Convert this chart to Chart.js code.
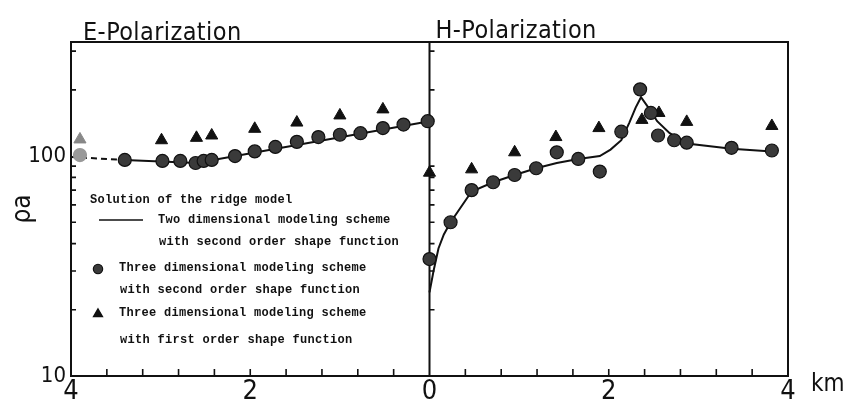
<!DOCTYPE html>
<html>
<head>
<meta charset="utf-8">
<script src="https://cdn.jsdelivr.net/npm/chart.js@4.4.1/dist/chart.umd.min.js"></script>
<style>
  html, body { margin: 0; padding: 0; background: #fff; }
</style>
</head>
<body>
<canvas id="chart" width="848" height="410"></canvas>
<script>
// distances in km from the ridge axis; E-polarization is drawn on the left half
const eCircleKm = [3.9, 3.40, 2.98, 2.78, 2.61, 2.52, 2.43, 2.17, 1.95, 1.72, 1.48, 1.24, 1.00, 0.77, 0.52, 0.29, 0.02];
const eCircleRho = [101, 96, 95, 95, 93, 95, 96, 100, 105, 110, 116, 122, 125, 127, 134, 139, 144];
const eTriangleKm = [3.9, 2.99, 2.60, 2.43, 1.95, 1.48, 1.00, 0.52, 0.0];
const eTriangleRho = [119, 118, 121, 124, 133, 142, 153, 163, 84];
const eLineKm = [4.0, 3.4, 2.6, 0.0];
const eLineRho = [99, 96, 93, 144];

// H-polarization, right half
const hCircleKm = [0.0, 0.235, 0.47, 0.71, 0.95, 1.19, 1.42, 1.66, 1.90, 2.14, 2.35, 2.47, 2.55, 2.73, 2.87, 3.37, 3.82];
const hCircleRho = [34, 50, 70, 76, 82, 88, 104, 97, 85, 129, 201, 157, 124, 118, 115, 109, 106];
const hTriangleKm = [0.47, 0.95, 1.41, 1.89, 2.37, 2.56, 2.87, 3.82];
const hTriangleRho = [87, 104, 122, 134, 146, 157, 143, 137];
const hLineKm = [0.0, 0.045, 0.10, 0.16, 0.235, 0.47, 0.71, 0.95, 1.19, 1.42, 1.66, 1.90, 2.02, 2.14, 2.23, 2.30, 2.36, 2.47, 2.54, 2.68, 2.87, 3.37, 3.82];
const hLineRho = [24, 30, 38, 44, 50, 69, 76, 82, 88, 93, 97, 100, 107, 118, 142, 166, 185, 160, 144, 127, 114, 108, 105];

// axis marks
const xTickKm = [0.4, 0.8, 1.2, 1.6, 2.0, 2.4, 2.8, 3.2, 3.6];
const yMinorTicks = [20, 30, 40, 50, 60, 70, 80, 90, 200, 300];
const yLabelled = [10, 100];

const legendLines = [
    'Solution of the ridge model',
    'Two dimensional modeling scheme',
    'with second order shape function',
    'Three dimensional modeling scheme',
    'with second order shape function',
    'Three dimensional modeling scheme',
    'with first order shape function'
];

const INK = '#111';
const NARROW = '"Liberation Sans Narrow", "DejaVu Sans Condensed", "Liberation Sans", sans-serif';
const MONO = '"Liberation Mono", "DejaVu Sans Mono", monospace';

const pts = (km, rho, sign) => km.map((d, i) => ({ x: sign * d, y: rho[i] }));

const circleStyle = { pointStyle: 'circle', pointRadius: 6.5, pointBackgroundColor: '#3a3a3a', pointBorderColor: INK, pointBorderWidth: 1.2 };
const triStyle = { pointStyle: 'triangle', pointRadius: 7, pointBackgroundColor: INK, pointBorderColor: INK, pointBorderWidth: 1 };

const framePlugin = {
    id: 'frame',
    beforeDatasetsDraw(chart) {
        const { ctx, chartArea: a, scales: { x, y } } = chart;
        const x0 = x.getPixelForValue(0);
        ctx.save();
        ctx.strokeStyle = INK;
        ctx.lineWidth = 2;
        ctx.beginPath();
        ctx.moveTo(a.left, a.top); ctx.lineTo(a.right, a.top); ctx.lineTo(a.right, a.bottom);
        ctx.moveTo(x0, a.top); ctx.lineTo(x0, a.bottom);
        ctx.stroke();
        ctx.lineWidth = 1.6;
        ctx.beginPath();
        xTickKm.forEach(d => {
            [-d, d].forEach(v => {
                const px = x.getPixelForValue(v);
                ctx.moveTo(px, a.bottom); ctx.lineTo(px, a.bottom - 7);
            });
        });
        yMinorTicks.forEach(v => {
            const py = y.getPixelForValue(v);
            ctx.moveTo(a.left, py); ctx.lineTo(a.left + 5, py);
            ctx.moveTo(x0, py); ctx.lineTo(x0 + 5, py);
        });
        ctx.stroke();
        ctx.restore();
    },
    afterDraw(chart) {
        const { ctx, chartArea: a, scales: { x } } = chart;
        const x0 = x.getPixelForValue(0);
        ctx.save();
        ctx.fillStyle = INK;
        ctx.textBaseline = 'alphabetic';
        ctx.font = `25px ${NARROW}`;
        ctx.letterSpacing = '0.4px';
        ctx.fillText('E-Polarization', a.left + 12, a.top - 2);
        ctx.fillText('H-Polarization', x0 + 6, a.top - 4);
        ctx.letterSpacing = '0px';
        ctx.font = `24px ${NARROW}`;
        ctx.fillText('km', a.right + 23, a.bottom + 15);

        // legend block
        ctx.font = `bold 12px ${MONO}`;
        ctx.letterSpacing = '0.3px';
        ctx.textBaseline = 'middle';
        const L = a.left;
        const rows = [
            [19, 200], [87, 220], [88, 242], [48, 268], [49, 290], [48, 313], [49, 340]
        ];
        legendLines.forEach((t, i) => ctx.fillText(t, L + rows[i][0], rows[i][1]));
        ctx.lineWidth = 1.5;
        ctx.strokeStyle = INK;
        ctx.beginPath();
        ctx.moveTo(L + 28, 220); ctx.lineTo(L + 72, 220);
        ctx.stroke();
        Chart.helpers.drawPoint(ctx, { pointStyle: 'circle', radius: 4.5, borderWidth: 1 }, L + 27, 269);
        ctx.fillStyle = '#3a3a3a';
        ctx.beginPath(); ctx.arc(L + 27, 269, 4.2, 0, Math.PI * 2); ctx.fill();
        ctx.fillStyle = INK;
        Chart.helpers.drawPoint(ctx, { pointStyle: 'triangle', radius: 5, borderWidth: 1 }, L + 27, 314);
        ctx.fill();
        ctx.restore();
    }
};

new Chart(document.getElementById('chart'), {
    type: 'scatter',
    data: {
        datasets: [
            { label: 'E 3D second order', data: pts(eCircleKm, eCircleRho, -1), ...circleStyle,
              pointBackgroundColor: eCircleKm.map((d, i) => i === 0 ? '#999' : '#3a3a3a'),
              pointBorderColor: eCircleKm.map((d, i) => i === 0 ? '#999' : INK) },
            { label: 'H 3D second order', data: pts(hCircleKm, hCircleRho, 1), ...circleStyle },
            { label: 'E 3D first order', data: pts(eTriangleKm, eTriangleRho, -1), ...triStyle,
              pointBackgroundColor: eTriangleKm.map((d, i) => i === 0 ? '#888' : INK),
              pointBorderColor: eTriangleKm.map((d, i) => i === 0 ? '#888' : INK) },
            { label: 'H 3D first order', data: pts(hTriangleKm, hTriangleRho, 1), ...triStyle },
            { label: 'E 2D', data: pts(eLineKm, eLineRho, -1), showLine: true, pointRadius: 0,
              borderColor: INK, borderWidth: 2, tension: 0,
              segment: { borderDash: ctx => ctx.p0DataIndex === 0 ? [6, 4] : undefined } },
            { label: 'H 2D', data: pts(hLineKm, hLineRho, 1), showLine: true, pointRadius: 0,
              borderColor: INK, borderWidth: 2, tension: 0 }
        ]
    },
    options: {
        responsive: false,
        animation: false,
        layout: { padding: { top: 42, right: 60, left: 0, bottom: 0 } },
        plugins: { legend: { display: false }, tooltip: { enabled: false } },
        scales: {
            x: {
                type: 'linear', min: -4, max: 4,
                ticks: { stepSize: 2, callback: v => Math.abs(v), color: INK, padding: 0, maxRotation: 0,
                         font: { family: NARROW, size: 27 } },
                grid: { display: false, drawTicks: false },
                border: { display: true, color: INK, width: 2 },
                afterFit: s => { s.height = 34; }
            },
            y: {
                type: 'logarithmic', min: 10, max: 330,
                ticks: { autoSkip: false, color: INK, padding: 5, font: { family: NARROW, size: 22 },
                         callback: v => yLabelled.includes(Math.round(v)) ? String(Math.round(v)) : '' },
                grid: { display: false, drawTicks: false },
                border: { display: true, color: INK, width: 2 },
                title: { display: true, text: 'ρa', color: INK, font: { family: NARROW, size: 26 }, padding: { top: 8, bottom: 0 } },
                afterFit: s => { s.width = 71; }
            }
        }
    },
    plugins: [framePlugin]
});
</script>
</body>
</html>
